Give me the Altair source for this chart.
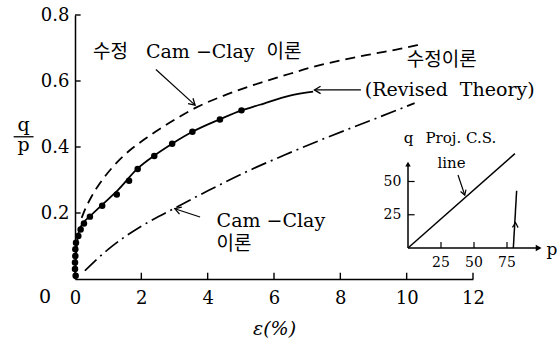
import math
import altair as alt
import pandas as pd

# ---------------- data ----------------
# measured points: axial strain (%) vs stress ratio q/p
test_eps = [0.02, 0.0, 0.0, 0.01, 0.01, 0.03, 0.10, 0.17, 0.27, 0.45, 0.82, 1.26, 1.63, 1.89, 2.39, 2.93, 3.54, 4.37, 5.02]
test_qp = [0.01, 0.03, 0.05, 0.07, 0.09, 0.11, 0.13, 0.15, 0.168, 0.189, 0.222, 0.256, 0.298, 0.333, 0.373, 0.41, 0.446, 0.483, 0.511]

# revised theory (solid)
revised_eps = [0.0, 0.01, 0.03, 0.06, 0.12, 0.25, 0.45, 0.82, 1.3, 1.89, 2.39, 2.93, 3.54, 4.37, 5.02, 5.57, 6.48, 7.18]
revised_qp = [0.0, 0.03, 0.07, 0.11, 0.145, 0.17, 0.19, 0.225, 0.27, 0.335, 0.374, 0.41, 0.446, 0.484, 0.511, 0.528, 0.556, 0.568]

# modified Cam-Clay theory (dashed)
mcc_eps = [0.2, 0.3, 0.5, 0.75, 1.1, 1.45, 2.16, 2.86, 3.66, 4.47, 5.27, 6.48, 7.08, 7.98, 8.98, 9.79, 10.34]
mcc_qp = [0.185, 0.21, 0.25, 0.29, 0.335, 0.372, 0.428, 0.474, 0.52, 0.555, 0.584, 0.622, 0.64, 0.662, 0.682, 0.697, 0.709]

# Cam-Clay theory (dash-dot)
cc_eps = [0.3, 1.0, 2.0, 2.86, 4.02, 5.17, 6.3, 7.5, 8.98, 10.24]
cc_qp = [0.025, 0.09, 0.16, 0.207, 0.268, 0.325, 0.375, 0.425, 0.483, 0.533]

x_ticks = [0, 2, 4, 6, 8, 10, 12]
y_ticks = [0.2, 0.4, 0.6, 0.8]

# inset: projected critical-state line and stress path in p-q space
cs_p = [0, 81]
cs_q = [0, 71]
path_p = [79.8, 82.3]
path_q = [0, 43]
inset_p_ticks = [25, 50, 75]
inset_q_ticks = [25, 50]

# ---------------- layout ----------------
FONT = "DejaVu Serif, Noto Sans CJK KR"
W, H = 398, 264
PAD = {"left": 75, "top": 15, "right": 560 - 75 - W, "bottom": 345 - 15 - H}
X_MAX, Y_MAX = 12, 0.8
PX_X, PX_Y = W / X_MAX, H / Y_MAX

# inset scales (pixel ranges inside the plot area)
P_RANGE = [333, 465]
Q_RANGE = [233, 100]
PX_P = (P_RANGE[1] - P_RANGE[0]) / 100
PX_Q = (Q_RANGE[0] - Q_RANGE[1]) / 100

V_HEAD = "M-1,-0.6L0,0L-1,0.6"

xs = alt.Scale(domain=[0, X_MAX], nice=False, zero=False)
ys = alt.Scale(domain=[0, Y_MAX], nice=False, zero=False)
ps = alt.Scale(domain=[0, 100], range=P_RANGE, nice=False, zero=False)
qs = alt.Scale(domain=[0, 100], range=Q_RANGE, nice=False, zero=False)

x_axis = alt.Axis(values=x_ticks, format="d", ticks=False, tickSize=0, grid=False,
                  domainColor="black", domainWidth=1.5, labelFont=FONT, labelFontSize=18,
                  labelColor="black", labelPadding=10, labelFlush=False, labelOverlap=False,
                  titleFont=FONT, titleFontSize=19, titleFontWeight="normal",
                  titleFontStyle="italic", titleColor="black", titlePadding=12)
y_axis = alt.Axis(values=y_ticks, format=".1f", ticks=False, tickSize=0, grid=False,
                  domainColor="black", domainWidth=1.5, labelFont=FONT, labelFontSize=18,
                  labelColor="black", labelPadding=6, labelFlush=False, labelOverlap=False)


def X(f):
    return alt.X(f, type="quantitative", scale=xs, axis=x_axis, title="ε(%)")


def Y(f):
    return alt.Y(f, type="quantitative", scale=ys, axis=y_axis, title=None)


def P(f):
    return alt.X(f, type="quantitative", scale=ps, axis=None)


def Q(f):
    return alt.Y(f, type="quantitative", scale=qs, axis=None)


def heading(df, sx, sy):
    ang = []
    for a, b, c, d in zip(df["x"], df["y"], df["x2"], df["y2"]):
        ang.append(math.degrees(math.atan2(-(d - b) * sy, (c - a) * sx)) % 360)
    df["ang"] = ang
    return df


# ---------------- main panel ----------------
def curve(eps, qp, **style):
    df = pd.DataFrame({"eps": eps, "qp": qp})
    return alt.Chart(df).mark_line(color="black", interpolate="monotone", **style).encode(
        x=X("eps"), y=Y("qp"))


solid = curve(revised_eps, revised_qp, strokeWidth=1.8)
dashed = curve(mcc_eps, mcc_qp, strokeWidth=1.8, strokeDash=[10, 6])
dashdot = curve(cc_eps, cc_qp, strokeWidth=1.7, strokeDash=[16, 5, 2, 5])

dots = alt.Chart(pd.DataFrame({"eps": test_eps, "qp": test_qp})).mark_circle(
    color="black", size=42, opacity=1).encode(x=X("eps"), y=Y("qp"))

xt = pd.DataFrame({"x": x_ticks[1:], "y": 0.0, "y2": 0.019})
x_tick_marks = alt.Chart(xt).mark_rule(color="black", strokeWidth=1.4).encode(
    x=X("x"), y=Y("y"), y2="y2")
yt = pd.DataFrame({"y": y_ticks, "x": 0.0, "x2": 0.17})
y_tick_marks = alt.Chart(yt).mark_rule(color="black", strokeWidth=1.4).encode(
    x=X("x"), x2="x2", y=Y("y"))

NB = "\u00a0"
left_text = pd.DataFrame({
    "x": [0.54, 4.27, 4.27],
    "y": [0.688, 0.176, 0.106],
    "t": [f"수정{NB*3}Cam −Clay{NB*2}이론", "Cam −Clay", "이론"],
})
center_text = pd.DataFrame({
    "x": [11.06, 11.3, -0.9, -1.55, -1.55],
    "y": [0.664, 0.573, -0.055, 0.45, 0.388],
    "t": ["수정이론", f"(Revised{NB*2}Theory)", "0", "q", "p"],
    "b": ["middle", "middle", "middle", "alphabetic", "alphabetic"],
})
txt_left = alt.Chart(left_text).mark_text(
    align="left", baseline="middle", font=FONT, fontSize=19, color="black").encode(
    x=X("x"), y=Y("y"), text="t:N")
txt_mid = alt.Chart(center_text[center_text.b == "middle"]).mark_text(
    align="center", baseline="middle", font=FONT, fontSize=19, color="black").encode(
    x=X("x"), y=Y("y"), text="t:N")
txt_frac = alt.Chart(center_text[center_text.b == "alphabetic"]).mark_text(
    align="center", baseline="alphabetic", font=FONT, fontSize=19, color="black").encode(
    x=X("x"), y=Y("y"), text="t:N")
frac_bar = alt.Chart(pd.DataFrame({"x": [-1.85], "x2": [-1.25], "y": [0.431]})).mark_rule(
    color="black", strokeWidth=1.3).encode(x=X("x"), x2="x2", y=Y("y"))

arrows = heading(pd.DataFrame({
    "x": [2.44, 8.62, 3.77],
    "y": [0.635, 0.573, 0.188],
    "x2": [3.62, 7.22, 3.01],
    "y2": [0.527, 0.573, 0.213],
}), PX_X, PX_Y)
arrow_lines = alt.Chart(arrows).mark_rule(color="black", strokeWidth=1.2).encode(
    x=X("x"), y=Y("y"), x2="x2", y2="y2")
arrow_heads = alt.Chart(arrows).mark_point(
    shape=V_HEAD, filled=False, color="black", size=150, strokeWidth=1.3, opacity=1).encode(
    x=X("x2"), y=Y("y2"), angle=alt.Angle("ang:Q", scale=None))

main = alt.layer(dashed, dashdot, solid, dots, x_tick_marks, y_tick_marks,
                 txt_left, txt_mid, txt_frac, frac_bar, arrow_lines, arrow_heads)

# ---------------- inset panel ----------------
inset_axes = pd.DataFrame({"x": [0, 0], "y": [0, 0], "x2": [99, 0], "y2": [0, 63]})
ia = alt.Chart(inset_axes).mark_rule(color="black", strokeWidth=1.5).encode(
    x=P("x"), y=Q("y"), x2="x2", y2="y2")
ia_heads_r = alt.Chart(pd.DataFrame({"x": [99], "y": [0]})).mark_point(
    shape="triangle-right", filled=True, color="black", size=45, opacity=1).encode(
    x=P("x"), y=Q("y"))
ia_heads_u = alt.Chart(pd.DataFrame({"x": [0], "y": [63]})).mark_point(
    shape="triangle-up", filled=True, color="black", size=30, opacity=1).encode(
    x=P("x"), y=Q("y"))

ipt = pd.DataFrame({"x": inset_p_ticks, "y": 0.0, "y2": 4.5})
ip_ticks = alt.Chart(ipt).mark_rule(color="black", strokeWidth=1.2).encode(
    x=P("x"), y=Q("y"), y2="y2")
iqt = pd.DataFrame({"y": inset_q_ticks, "x": 0.0, "x2": 5.0})
iq_ticks = alt.Chart(iqt).mark_rule(color="black", strokeWidth=1.2).encode(
    x=P("x"), x2="x2", y=Q("y"))

ip_labels = alt.Chart(pd.DataFrame({"x": inset_p_ticks, "y": -11.3,
                                    "t": [str(v) for v in inset_p_ticks]})).mark_text(
    align="center", baseline="middle", font=FONT, fontSize=14, color="black").encode(
    x=P("x"), y=Q("y"), text="t:N")
iq_labels = alt.Chart(pd.DataFrame({"x": -5.0, "y": inset_q_ticks,
                                    "t": [str(v) for v in inset_q_ticks]})).mark_text(
    align="right", baseline="middle", font=FONT, fontSize=14, color="black").encode(
    x=P("x"), y=Q("y"), text="t:N")

inset_text = pd.DataFrame({
    "x": [0.5, 40, 33, 109],
    "y": [82.7, 82.7, 64, -1.5],
    "t": ["q", "Proj. C.S.", "line", "p"],
    "s": [15, 15, 15, 17],
})
it = alt.Chart(inset_text).mark_text(
    align="center", baseline="middle", font=FONT, color="black").encode(
    x=P("x"), y=Q("y"), text="t:N", size=alt.Size("s:Q", scale=None))

cs_line = alt.Chart(pd.DataFrame({"x": [cs_p[0]], "y": [cs_q[0]], "x2": [cs_p[1]], "y2": [cs_q[1]]})).mark_rule(
    color="black", strokeWidth=1.5).encode(x=P("x"), y=Q("y"), x2="x2", y2="y2")
path_line = alt.Chart(pd.DataFrame({"x": [path_p[0]], "y": [path_q[0]], "x2": [path_p[1]], "y2": [path_q[1]]})).mark_rule(
    color="black", strokeWidth=1.5).encode(x=P("x"), y=Q("y"), x2="x2", y2="y2")

inset_arrows = heading(pd.DataFrame({
    "x": [37.9, 80.7],
    "y": [54.9, 6.0],
    "x2": [43.0, 81.5],
    "y2": [39.8, 19.0],
}), PX_P, PX_Q)
ia_lines = alt.Chart(inset_arrows.iloc[:1]).mark_rule(color="black", strokeWidth=1.2).encode(
    x=P("x"), y=Q("y"), x2="x2", y2="y2")
ia_heads = alt.Chart(inset_arrows).mark_point(
    shape=V_HEAD, filled=False, color="black", size=90, strokeWidth=1.2, opacity=1).encode(
    x=P("x2"), y=Q("y2"), angle=alt.Angle("ang:Q", scale=None))

inset = alt.layer(ia, ia_heads_r, ia_heads_u, ip_ticks, iq_ticks, ip_labels, iq_labels,
                  it, cs_line, path_line, ia_lines, ia_heads)

chart = (
    alt.layer(main, inset)
    .resolve_scale(x="independent", y="independent")
    .properties(width=W, height=H, padding=PAD, autosize="none", background="white")
    .configure_view(stroke=None)
)

chart.save("out.html", embed_options={"renderer": "svg", "actions": False})
